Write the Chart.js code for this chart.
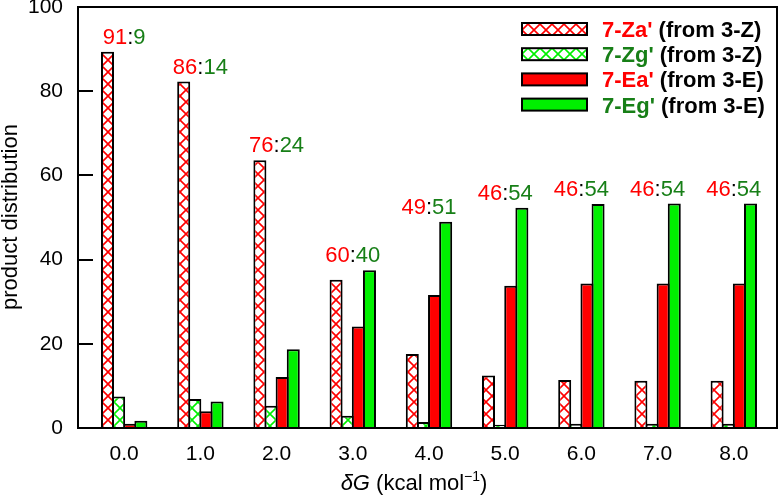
<!DOCTYPE html>
<html>
<head>
<meta charset="utf-8">
<script src="https://cdn.jsdelivr.net/npm/chart.js@4.4.1/dist/chart.umd.min.js"></script>
<style>
  html, body { margin: 0; padding: 0; background: #fff; }
</style>
</head>
<body>
<canvas id="chart" width="780" height="495"></canvas>
<script>
// x positions (delta G, kcal/mol)
const deltaG = [0, 1, 2, 3, 4, 5, 6, 7, 8];

// product distribution for each series
const zaValues = [89.4, 82.3, 63.6, 35.2, 17.6, 12.5, 11.4, 11.2, 11.2];
const zgValues = [7.5, 6.9, 5.3, 2.9, 1.4, 0.8, 1.0, 1.0, 1.0];
const eaValues = [1.0, 4.0, 12.1, 24.1, 31.6, 33.8, 34.3, 34.3, 34.3];
const egValues = [1.7, 6.3, 18.7, 37.5, 49.0, 52.3, 53.2, 53.3, 53.3];

// a':g' ratio printed above each group
const ratioA = [91, 86, 76, 60, 49, 46, 46, 46, 46];
const ratioG = [9, 14, 24, 40, 51, 54, 54, 54, 54];

const seriesNames = ["7-Za'", "7-Zg'", "7-Ea'", "7-Eg'"];
const seriesSources = ["(from 3-Z)", "(from 3-Z)", "(from 3-E)", "(from 3-E)"];
const yTicks = [0, 20, 40, 60, 80, 100];

const RED = "#ff0000";
const GREEN = "#00f000";
const DARK_GREEN = "#177f17";
const FONT = "'Liberation Sans', Arial, Helvetica, sans-serif";

const canvas = document.getElementById("chart");
const mainCtx = canvas.getContext("2d");

function makeHatch(color) {
  const c = document.createElement("canvas");
  c.width = 12;
  c.height = 12;
  const g = c.getContext("2d");
  g.fillStyle = "#fff";
  g.fillRect(0, 0, 12, 12);
  g.strokeStyle = color;
  g.lineWidth = 1.6;
  g.beginPath();
  g.moveTo(-1, -1); g.lineTo(13, 13);
  g.moveTo(13, -1); g.lineTo(-1, 13);
  g.stroke();
  return mainCtx.createPattern(c, "repeat");
}

const fills = [makeHatch(RED), makeHatch(GREEN), RED, GREEN];
const nameColors = [RED, DARK_GREEN, RED, DARK_GREEN];
const series = [zaValues, zgValues, eaValues, egValues];

// draw a row of differently styled text pieces, centred on cx
function drawParts(ctx, parts, cx, baseY) {
  let w = 0;
  parts.forEach(p => { ctx.font = p.font; w += ctx.measureText(p.text).width; });
  let px = cx - w / 2;
  ctx.textAlign = "left";
  ctx.textBaseline = "alphabetic";
  parts.forEach(p => {
    ctx.font = p.font;
    ctx.fillStyle = p.color || "#000";
    ctx.fillText(p.text, px, baseY + (p.dy || 0));
    px += ctx.measureText(p.text).width;
  });
}

const decor = {
  id: "decor",
  afterDatasetsDraw(chart) {
    const { ctx, chartArea: a, scales: { x, y } } = chart;
    ctx.save();

    // frame + inward y ticks
    ctx.strokeStyle = "#000";
    ctx.lineWidth = 2;
    ctx.strokeRect(a.left, a.top, a.right - a.left, a.bottom - a.top);
    yTicks.forEach(v => {
      if (v <= 0 || v >= 100) return;
      const py = Math.round(y.getPixelForValue(v));
      ctx.beginPath();
      ctx.moveTo(a.left, py);
      ctx.lineTo(a.left + 15, py);
      ctx.stroke();
    });

    // ratio labels above groups
    const rf = "22px " + FONT;
    deltaG.forEach((g, k) => {
      const top = Math.max(zaValues[k], zgValues[k], eaValues[k], egValues[k]);
      drawParts(ctx, [
        { text: String(ratioA[k]), font: rf, color: RED },
        { text: ":", font: rf, color: "#000" },
        { text: String(ratioG[k]), font: rf, color: DARK_GREEN }
      ], x.getPixelForValue(g), y.getPixelForValue(top) - 8);
    });

    // legend
    const lf = "bold 22px " + FONT;
    seriesNames.forEach((name, i) => {
      const cy = 29 + i * 25.2;
      ctx.fillStyle = fills[i];
      ctx.fillRect(522, cy - 6, 65, 12);
      ctx.lineWidth = 2;
      ctx.strokeStyle = "#000";
      ctx.strokeRect(522, cy - 6, 65, 12);
      ctx.font = lf;
      ctx.textAlign = "left";
      ctx.textBaseline = "alphabetic";
      ctx.fillStyle = nameColors[i];
      ctx.fillText(name, 602, cy + 8);
      const w = ctx.measureText(name + " ").width;
      ctx.fillStyle = "#000";
      ctx.fillText(seriesSources[i], 602 + w, cy + 8);
    });

    // axis titles
    drawParts(ctx, [
      { text: "\u03B4G", font: "italic 22px " + FONT },
      { text: " (kcal mol", font: "22px " + FONT },
      { text: "\u22121", font: "14px " + FONT, dy: -9 },
      { text: ")", font: "22px " + FONT }
    ], 414, 490);

    ctx.translate(17, 217);
    ctx.rotate(-Math.PI / 2);
    ctx.font = "22px " + FONT;
    ctx.fillStyle = "#000";
    ctx.textAlign = "center";
    ctx.textBaseline = "alphabetic";
    ctx.fillText("product distribution", 0, 0);
    ctx.restore();
  }
};

new Chart(canvas, {
  type: "bar",
  data: {
    datasets: series.map((vals, i) => ({
      label: seriesNames[i] + " " + seriesSources[i],
      data: vals.map((v, k) => ({ x: deltaG[k], y: v })),
      backgroundColor: fills[i],
      borderColor: "#000",
      borderWidth: 2,
      categoryPercentage: 0.584,
      barPercentage: 1.17
    }))
  },
  options: {
    responsive: false,
    animation: false,
    layout: { padding: { top: 7, right: 3, left: 0, bottom: 0 } },
    plugins: {
      legend: { display: false },
      tooltip: { enabled: false }
    },
    scales: {
      x: {
        type: "linear",
        offset: false,
        min: -0.606,
        max: 8.567,
        afterBuildTicks: s => { s.ticks = deltaG.map(v => ({ value: v })); },
        afterFit: s => { s.height = 67; s.paddingLeft = 0; s.paddingRight = 0; },
        grid: { display: false, drawTicks: false, offset: false },
        border: { display: false },
        ticks: {
          padding: 14,
          color: "#000",
          font: { family: FONT, size: 21 },
          callback: v => Number(v).toFixed(1)
        }
      },
      y: {
        min: 0,
        max: 100,
        afterBuildTicks: s => { s.ticks = yTicks.map(v => ({ value: v })); },
        afterFit: s => { s.width = 78; s.paddingTop = 0; s.paddingBottom = 0; },
        grid: { display: false, drawTicks: false },
        border: { display: false },
        ticks: {
          padding: 15,
          color: "#000",
          font: { family: FONT, size: 21 }
        }
      }
    }
  },
  plugins: [decor]
});
</script>
</body>
</html>
